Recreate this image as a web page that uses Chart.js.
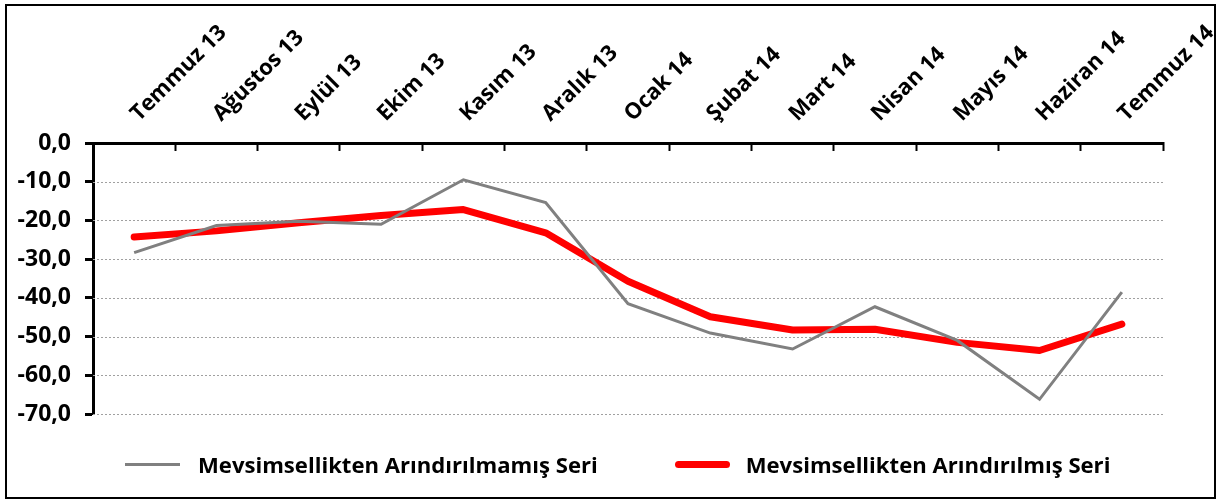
<!DOCTYPE html>
<html lang="tr">
<head>
<meta charset="utf-8">
<title>Mevsimsellikten Arındırılmış Seri</title>
<script src="https://cdn.jsdelivr.net/npm/chart.js@4/dist/chart.umd.min.js"></script>
<style>
  html, body { margin: 0; padding: 0; background: #fff; }
  body { width: 1218px; height: 501px; position: relative; overflow: hidden; font-family: "Open Sans", sans-serif; }
  .frame {
    position: absolute; left: 5px; top: 4px;
    width: 1207px; height: 491px;
    border: 2px solid #000;
  }
  .frame canvas { display: block; }
  .legend {
    position: absolute; left: 125px; top: 449px;
    display: flex; align-items: center;
    font-weight: 700; font-size: 22.1px; color: #000;
    white-space: nowrap;
  }
  .legend .sample { display: inline-block; width: 55px; }
  .legend .gray { height: 3px; background: #808080; margin-right: 18px; }
  .legend .red { height: 7px; border-radius: 4px; background: #ff0000; margin-right: 16px; margin-left: 77px; }
</style>
</head>
<body>
<div class="frame">
  <canvas id="chart" width="1207" height="491"></canvas>
</div>
<div class="legend">
  <span class="sample gray"></span><span id="lg0"></span>
  <span class="sample red"></span><span id="lg1"></span>
</div>
<script>
const months = ['Temmuz 13', 'Ağustos 13', 'Eylül 13', 'Ekim 13', 'Kasım 13', 'Aralık 13',
  'Ocak 14', 'Şubat 14', 'Mart 14', 'Nisan 14', 'Mayıs 14', 'Haziran 14', 'Temmuz 14'];

const rawSeries = [-28.3, -21.3, -20.2, -21.0, -9.5, -15.4, -41.5, -49.1, -53.2, -42.3, -51.0, -66.2, -38.5];
const adjSeries = [-24.3, -22.7, -20.6, -18.7, -17.2, -23.2, -35.7, -44.9, -48.3, -48.1, -51.5, -53.6, -46.8];

const seriesNames = ['Mevsimsellikten Arındırılmamış Seri', 'Mevsimsellikten Arındırılmış Seri'];

const yMin = -70;
const yMax = 0;
const yStep = 10;

document.getElementById('lg0').textContent = seriesNames[0];
document.getElementById('lg1').textContent = seriesNames[1];

const ctx = document.getElementById('chart').getContext('2d');
new Chart(ctx, {
  type: 'line',
  data: {
    labels: months,
    datasets: [
      {
        label: seriesNames[0],
        data: rawSeries,
        borderColor: '#808080',
        backgroundColor: '#808080',
        borderWidth: 3,
        pointRadius: 0,
        tension: 0,
      },
      {
        label: seriesNames[1],
        data: adjSeries,
        borderColor: '#ff0000',
        backgroundColor: '#ff0000',
        borderWidth: 7,
        borderCapStyle: 'round',
        borderJoinStyle: 'round',
        pointRadius: 0,
        tension: 0,
      },
    ],
  },
  options: {
    responsive: false,
    animation: false,
    layout: { padding: { left: 0, top: 0, right: 51, bottom: 83 } },
    plugins: {
      legend: { display: false },
      tooltip: { enabled: false },
    },
    scales: {
      x: {
        position: 'top',
        offset: true,
        grid: {
          display: true,
          drawOnChartArea: false,
          offset: true,
          tickLength: -8,
          tickWidth: 2,
          tickColor: '#000',
        },
        border: { display: true, color: '#000', width: 3 },
        ticks: {
          autoSkip: false,
          minRotation: 45,
          maxRotation: 45,
          padding: 24,
          labelOffset: 19,
          color: '#000',
          font: { family: 'Open Sans', size: 22, weight: 'bold' },
        },
        afterFit(scale) {
          scale.height = 137;
          scale.paddingLeft = 0;
          scale.paddingRight = 0;
        },
      },
      y: {
        min: yMin,
        max: yMax,
        grid: {
          drawOnChartArea: false,
          tickColor: '#000',
          tickLength: 8,
          tickWidth: 3,
        },
        border: { display: true, color: '#000', width: 3 },
        ticks: {
          stepSize: yStep,
          padding: 14,
          color: '#000',
          font: { family: 'Open Sans', size: 23, weight: 'bold' },
          callback: (v) => v.toFixed(1).replace('.', ','),
        },
        afterFit(scale) {
          scale.width = 86;
        },
      },
    },
  },
  plugins: [{
    id: 'dottedGrid',
    beforeDatasetsDraw(chart) {
      // dotted horizontal gridlines like the original
      const { ctx, chartArea, scales } = chart;
      ctx.save();
      ctx.strokeStyle = '#a0a0a0';
      ctx.lineWidth = 1;
      ctx.setLineDash([2, 2]);
      for (let v = yMin; v < yMax; v += yStep) {
        const y = Math.round(scales.y.getPixelForValue(v)) + 0.5;
        ctx.beginPath();
        ctx.moveTo(chartArea.left, y);
        ctx.lineTo(chartArea.right, y);
        ctx.stroke();
      }
      ctx.restore();
    },
  }],
});
</script>
</body>
</html>
